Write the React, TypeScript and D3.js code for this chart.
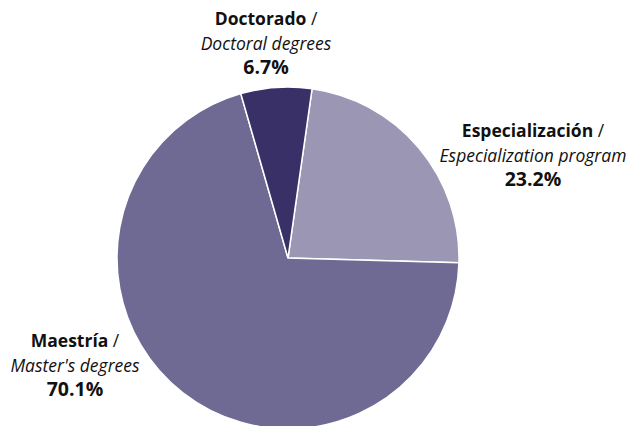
import React from "react";
import * as d3 from "d3";

const categories = ["Especialización", "Maestría", "Doctorado"];
const englishLabels = ["Especialization program", "Master's degrees", "Doctoral degrees"];
const values = [23.2, 70.1, 6.7];
const colors = ["#9a96b3", "#6f6a93", "#3a3068"];
const labelPos = [
  { x: 533, y: 137 },
  { x: 75, y: 347 },
  { x: 266, y: 25 },
];

export default function App() {
  const width = 631;
  const height = 426;
  const cx = 288;
  const cy = 258;
  const r = 171;
  const startDeg = 8.1;
  const pie = d3
    .pie<number>()
    .sort(null)
    .value((d) => d)
    .startAngle((startDeg * Math.PI) / 180)
    .endAngle((startDeg * Math.PI) / 180 + 2 * Math.PI);
  const arcs = pie(values);
  const arc = d3.arc<d3.PieArcDatum<number>>().innerRadius(0).outerRadius(r);
  const font = "'Open Sans', 'Noto Sans', sans-serif";
  return (
    <svg
      width={width}
      height={height}
      style={{ position: "absolute", left: 0, top: 0, background: "#fff" }}
    >
      <g transform={`translate(${cx},${cy})`}>
        {arcs.map((a, i) => (
          <path key={i} d={arc(a) || ""} fill={colors[i]} stroke="#fff" strokeWidth={1.5} />
        ))}
      </g>
      {categories.map((c, i) => (
        <text
          key={c}
          x={labelPos[i].x}
          y={labelPos[i].y}
          textAnchor="middle"
          fontFamily={font}
          fill="#111"
          fontSize={17.5}
        >
          <tspan x={labelPos[i].x} fontWeight="bold">
            {c} <tspan fontWeight="normal">/</tspan>
          </tspan>
          <tspan x={labelPos[i].x} dy={24.5} fontStyle="italic">
            {englishLabels[i]}
          </tspan>
          <tspan x={labelPos[i].x} dy={24.5} fontWeight="bold" fontSize={19.5}>
            {values[i].toFixed(1)}%
          </tspan>
        </text>
      ))}
    </svg>
  );
}
